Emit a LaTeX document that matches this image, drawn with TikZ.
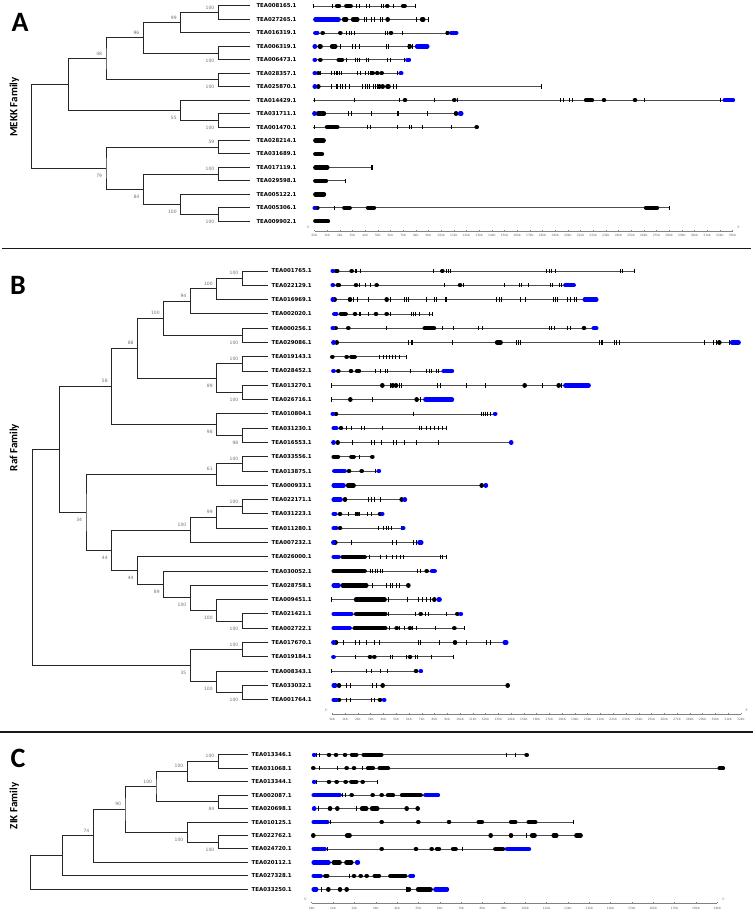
\documentclass[tikz,border=0pt]{standalone}
\usepackage{fontspec}
\setmainfont{DejaVu Sans}
\newfontfamily\calib{Carlito}
\newcommand\gl[3]{\draw[gline] (#2,#1) -- (#3,#1);}
\newcommand\gk[2]{\foreach \p/\q in {#2} {\draw[blob] (\p,#1) -- (\q,#1);}}
\newcommand\gb[2]{\foreach \p/\q in {#2} {\draw[blob,draw=blue] (\p,#1) -- (\q,#1);}}
\newcommand\gd[2]{\foreach \p in {#2} {\draw[blob] ({\p-0.4},#1) -- ({\p+0.4},#1);}}
\newcommand\gt[2]{\foreach \p in {#2} {\draw[tk] (\p,#1-2.2) -- (\p,#1+2.2);}}
\newcommand\kbaxis[5]{%
  \draw[axl] (#2,#1) -- ({#2+#4*#3},#1);
  \foreach \k in {0,...,#4} {\draw[axl] ({#2+\k*#3},#1) -- ({#2+\k*#3},#1-1.3);
    \node[axt] (#5\k) at ({#2+\k*#3},#1+4.6) {\k kb};}
  \node[axt] (#5s) at ({#2-18},#1-3.5) {5'};
  \node[axt] (#5e) at ({#2+#4*#3+18},#1-3.5) {3'};}
\newcommand\bsu[3]{\node[bs,anchor=south east,xshift=-3.8pt,yshift=3.4pt] (#1) at (#2) {#3};}
\newcommand\bsd[3]{\node[bs,anchor=north east,xshift=-3.8pt,yshift=-5.4pt] (#1) at (#2) {#3};}
\begin{document}
\begin{tikzpicture}[x=1pt,y=-1pt,
  leaf/.style={font=\fontsize{5.4}{6}\selectfont\bfseries, anchor=west, inner sep=0pt, outer xsep=3.4pt},
  leafA/.style={leaf, outer xsep=6.5pt},
  bs/.style={font=\fontsize{4.5}{5}\selectfont, text=black!55, inner sep=0pt},
  br/.style={line width=1pt, draw=black!85},
  gline/.style={line width=0.7pt, draw=black!70},
  blob/.style={line width=4.4pt, line cap=round, draw=black},
  tk/.style={line width=0.8pt, draw=black},
  axl/.style={line width=0.4pt, draw=black!50},
  axt/.style={font=\fontsize{3}{3.5}\selectfont, text=black!60, inner sep=0pt},
  plet/.style={font=\calib\bfseries\fontsize{28}{30}\selectfont, inner sep=0pt},
  fam/.style={font=\calib\bfseries\fontsize{11}{12}\selectfont, inner sep=0pt, rotate=90},
  sep/.style={line width=1.6pt, draw=black!90}]
\useasboundingbox (0,0) rectangle (753,912);
\fill[white] (0,0) rectangle (753,912);

% ---------- labels and separators
\node[plet] (LA) at (20,22.8) {A};
\node[plet] (LB) at (18,285) {B};
\node[plet] (LC) at (18,758) {C};
\node[fam] (FA) at (14.5,107) {MEKK Family};
\node[fam] (FB) at (14.5,447.5) {Raf Family};
\node[fam] (FC) at (14.5,806) {ZIK Family};
\draw[sep] (2,248.3) -- (751,248.3);
\draw[sep] (0,731.7) -- (753,731.7);

% ================= PANEL A tree
\node[leafA] (a0) at (250,6) {TEA008165.1};
\node[leafA] (a1) at (250,19.45) {TEA027265.1};
\node[leafA] (a2) at (250,32.9) {TEA016319.1};
\node[leafA] (a3) at (250,46.35) {TEA006319.1};
\node[leafA] (a4) at (250,59.8) {TEA006473.1};
\node[leafA] (a5) at (250,73.25) {TEA028357.1};
\node[leafA] (a6) at (250,86.7) {TEA025870.1};
\node[leafA] (a7) at (250,100.15) {TEA014429.1};
\node[leafA] (a8) at (250,113.6) {TEA031711.1};
\node[leafA] (a9) at (250,127.05) {TEA001470.1};
\node[leafA] (a10) at (250,140.5) {TEA028214.1};
\node[leafA] (a11) at (250,153.95) {TEA031689.1};
\node[leafA] (a12) at (250,167.4) {TEA017119.1};
\node[leafA] (a13) at (250,180.85) {TEA029598.1};
\node[leafA] (a14) at (250,194.3) {TEA005122.1};
\node[leafA] (a15) at (250,207.75) {TEA005306.1};
\node[leafA] (a16) at (250,221.2) {TEA009902.1};
\coordinate (nA1) at (218.3,12.73);
\coordinate (nA2) at (180.7,22.8);
\coordinate (nA3) at (218.3,53.08);
\coordinate (nA4) at (143.3,37.94);
\coordinate (nA5) at (218.3,79.98);
\coordinate (nA6) at (106,58.96);
\coordinate (nA7) at (218.3,120.33);
\coordinate (nA8) at (180.7,110.24);
\coordinate (nA9) at (68.3,84.6);
\coordinate (nA10) at (218.3,147.23);
\coordinate (nA11) at (218.3,174.13);
\coordinate (nA12) at (218.3,214.48);
\coordinate (nA13) at (180.7,204.39);
\coordinate (nA14) at (143.3,189.26);
\coordinate (nA15) at (106,168.25);
\coordinate (rA) at (31.7,126.4);
\draw[br] (a0.west) -| (nA1) |- (a1.west);
\draw[br] (nA1) -| (nA2) |- (a2.west);
\draw[br] (a3.west) -| (nA3) |- (a4.west);
\draw[br] (nA2) -| (nA4) |- (nA3);
\draw[br] (a5.west) -| (nA5) |- (a6.west);
\draw[br] (nA4) -| (nA6) |- (nA5);
\draw[br] (a8.west) -| (nA7) |- (a9.west);
\draw[br] (a7.west) -| (nA8) |- (nA7);
\draw[br] (nA6) -| (nA9) |- (nA8);
\draw[br] (a10.west) -| (nA10) |- (a11.west);
\draw[br] (a12.west) -| (nA11) |- (a13.west);
\draw[br] (a15.west) -| (nA12) |- (a16.west);
\draw[br] (a14.west) -| (nA13) |- (nA12);
\draw[br] (nA11) -| (nA14) |- (nA13);
\draw[br] (nA10) -| (nA15) |- (nA14);
\draw[br] (nA9) -| (rA) |- (nA15);
\bsu{bA1}{nA1}{100}
\bsu{bA2}{nA2}{99}
\bsd{bA3}{nA3}{100}
\bsu{bA4}{nA4}{96}
\bsd{bA5}{nA5}{100}
\bsu{bA6}{nA6}{48}
\bsd{bA7}{nA7}{100}
\bsd{bA8}{nA8}{55}
\bsu{bA10}{nA10}{59}
\bsu{bA11}{nA11}{100}
\bsd{bA12}{nA12}{100}
\bsd{bA13}{nA13}{100}
\bsd{bA14}{nA14}{84}
\bsd{bA15}{nA15}{79}

% ================= PANEL B tree
\node[leaf] (b0) at (268.3,271) {TEA001765.1};
\node[leaf] (b1) at (268.3,285.29) {TEA022129.1};
\node[leaf] (b2) at (268.3,299.58) {TEA016969.1};
\node[leaf] (b3) at (268.3,313.87) {TEA002020.1};
\node[leaf] (b4) at (268.3,328.16) {TEA000256.1};
\node[leaf] (b5) at (268.3,342.45) {TEA029086.1};
\node[leaf] (b6) at (268.3,356.74) {TEA019143.1};
\node[leaf] (b7) at (268.3,371.03) {TEA028452.1};
\node[leaf] (b8) at (268.3,385.32) {TEA013270.1};
\node[leaf] (b9) at (268.3,399.61) {TEA026716.1};
\node[leaf] (b10) at (268.3,413.9) {TEA010804.1};
\node[leaf] (b11) at (268.3,428.19) {TEA031230.1};
\node[leaf] (b12) at (268.3,442.48) {TEA016553.1};
\node[leaf] (b13) at (268.3,456.77) {TEA033556.1};
\node[leaf] (b14) at (268.3,471.06) {TEA013875.1};
\node[leaf] (b15) at (268.3,485.35) {TEA000933.1};
\node[leaf] (b16) at (268.3,499.64) {TEA022171.1};
\node[leaf] (b17) at (268.3,513.93) {TEA031223.1};
\node[leaf] (b18) at (268.3,528.22) {TEA011280.1};
\node[leaf] (b19) at (268.3,542.51) {TEA007232.1};
\node[leaf] (b20) at (268.3,556.8) {TEA026000.1};
\node[leaf] (b21) at (268.3,571.09) {TEA030052.1};
\node[leaf] (b22) at (268.3,585.38) {TEA028758.1};
\node[leaf] (b23) at (268.3,599.67) {TEA009451.1};
\node[leaf] (b24) at (268.3,613.96) {TEA021421.1};
\node[leaf] (b25) at (268.3,628.25) {TEA002722.1};
\node[leaf] (b26) at (268.3,642.54) {TEA017670.1};
\node[leaf] (b27) at (268.3,656.83) {TEA019184.1};
\node[leaf] (b28) at (268.3,671.12) {TEA008343.1};
\node[leaf] (b29) at (268.3,685.41) {TEA033032.1};
\node[leaf] (b30) at (268.3,699.7) {TEA001764.1};
\coordinate (nB1) at (242.3,278.15);
\coordinate (nB2) at (216.7,288.87);
\coordinate (nB3) at (190.3,301.37);
\coordinate (nB4) at (242.3,335.31);
\coordinate (nB5) at (163.7,318.34);
\coordinate (nB6) at (242.3,363.89);
\coordinate (nB7) at (242.3,392.47);
\coordinate (nB8) at (216.7,378.18);
\coordinate (nB9) at (137.5,348.26);
\coordinate (nB10) at (242.3,435.34);
\coordinate (nB11) at (216.7,424.62);
\coordinate (nB12) at (111.7,386.44);
\coordinate (nB13) at (242.3,463.92);
\coordinate (nB14) at (216.7,474.63);
\coordinate (nB15) at (242.3,506.79);
\coordinate (nB16) at (216.7,517.5);
\coordinate (nB17) at (190.3,530.0);
\coordinate (nB18) at (242.3,621.1);
\coordinate (nB19) at (216.7,610.4);
\coordinate (nB20) at (190.3,597.9);
\coordinate (nB21) at (163.7,584.5);
\coordinate (nB22) at (137.5,570.6);
\coordinate (nB23) at (111.7,550.3);
\coordinate (nB24) at (86,512.5);
\coordinate (nB25) at (59.3,449.5);
\coordinate (nB26) at (242.3,649.7);
\coordinate (nB27) at (242.3,692.6);
\coordinate (nB28) at (216.7,681.8);
\coordinate (nB29) at (190.3,665.8);
\coordinate (rB) at (32.7,557.6);
\draw[br] (b0.west) -| (nB1) |- (b1.west);
\draw[br] (nB1) -| (nB2) |- (b2.west);
\draw[br] (nB2) -| (nB3) |- (b3.west);
\draw[br] (b4.west) -| (nB4) |- (b5.west);
\draw[br] (nB3) -| (nB5) |- (nB4);
\draw[br] (b6.west) -| (nB6) |- (b7.west);
\draw[br] (b8.west) -| (nB7) |- (b9.west);
\draw[br] (nB6) -| (nB8) |- (nB7);
\draw[br] (nB5) -| (nB9) |- (nB8);
\draw[br] (b11.west) -| (nB10) |- (b12.west);
\draw[br] (b10.west) -| (nB11) |- (nB10);
\draw[br] (nB9) -| (nB12) |- (nB11);
\draw[br] (b13.west) -| (nB13) |- (b14.west);
\draw[br] (nB13) -| (nB14) |- (b15.west);
\draw[br] (b16.west) -| (nB15) |- (b17.west);
\draw[br] (nB15) -| (nB16) |- (b18.west);
\draw[br] (nB16) -| (nB17) |- (b19.west);
\draw[br] (b24.west) -| (nB18) |- (b25.west);
\draw[br] (b23.west) -| (nB19) |- (nB18);
\draw[br] (b22.west) -| (nB20) |- (nB19);
\draw[br] (b21.west) -| (nB21) |- (nB20);
\draw[br] (b20.west) -| (nB22) |- (nB21);
\draw[br] (nB17) -| (nB23) |- (nB22);
\draw[br] (nB14) -| (nB24) |- (nB23);
\draw[br] (nB12) -| (nB25) |- (nB24);
\draw[br] (b26.west) -| (nB26) |- (b27.west);
\draw[br] (b29.west) -| (nB27) |- (b30.west);
\draw[br] (b28.west) -| (nB28) |- (nB27);
\draw[br] (nB26) -| (nB29) |- (nB28);
\draw[br] (nB25) -| (rB) |- (nB29);
\bsu{bB1}{nB1}{100}
\bsu{bB2}{nB2}{100}
\bsu{bB3}{nB3}{94}
\bsd{bB4}{nB4}{100}
\bsu{bB5}{nB5}{100}
\bsu{bB6}{nB6}{100}
\bsd{bB7}{nB7}{100}
\bsd{bB8}{nB8}{89}
\bsu{bB9}{nB9}{88}
\bsd{bB10}{nB10}{98}
\bsd{bB11}{nB11}{98}
\bsu{bB12}{nB12}{58}
\bsu{bB13}{nB13}{100}
\bsu{bB14}{nB14}{61}
\bsu{bB15}{nB15}{100}
\bsu{bB16}{nB16}{99}
\bsu{bB17}{nB17}{100}
\bsd{bB18}{nB18}{100}
\bsd{bB19}{nB19}{100}
\bsd{bB20}{nB20}{100}
\bsd{bB21}{nB21}{89}
\bsd{bB22}{nB22}{44}
\bsd{bB23}{nB23}{44}
\bsd{bB24}{nB24}{34}
\bsu{bB26}{nB26}{100}
\bsd{bB27}{nB27}{100}
\bsd{bB28}{nB28}{100}
\bsd{bB29}{nB29}{35}

% ================= PANEL C tree
\node[leaf] (c0) at (248.3,754.8) {TEA013346.1};
\node[leaf] (c1) at (248.3,768.25) {TEA031068.1};
\node[leaf] (c2) at (248.3,781.7) {TEA013344.1};
\node[leaf] (c3) at (248.3,795.15) {TEA002087.1};
\node[leaf] (c4) at (248.3,808.6) {TEA020698.1};
\node[leaf] (c5) at (248.3,822.05) {TEA010125.1};
\node[leaf] (c6) at (248.3,835.5) {TEA022762.1};
\node[leaf] (c7) at (248.3,848.95) {TEA024720.1};
\node[leaf] (c8) at (248.3,862.4) {TEA020112.1};
\node[leaf] (c9) at (248.3,875.85) {TEA027328.1};
\node[leaf] (c10) at (248.3,889.3) {TEA033250.1};
\coordinate (nC1) at (218.3,761.53);
\coordinate (nC2) at (187.3,771.6);
\coordinate (nC3) at (218.3,801.9);
\coordinate (nC4) at (156,786.75);
\coordinate (nC5) at (218.3,842.2);
\coordinate (nC6) at (187.3,832.1);
\coordinate (nC7) at (125,809.4);
\coordinate (nC8) at (93.3,835.9);
\coordinate (nC9) at (62.3,855.9);
\coordinate (rC) at (30.7,872.6);
\draw[br] (c0.west) -| (nC1) |- (c1.west);
\draw[br] (nC1) -| (nC2) |- (c2.west);
\draw[br] (c3.west) -| (nC3) |- (c4.west);
\draw[br] (nC2) -| (nC4) |- (nC3);
\draw[br] (c6.west) -| (nC5) |- (c7.west);
\draw[br] (c5.west) -| (nC6) |- (nC5);
\draw[br] (nC4) -| (nC7) |- (nC6);
\draw[br] (nC7) -| (nC8) |- (c8.west);
\draw[br] (nC8) -| (nC9) |- (c9.west);
\draw[br] (nC9) -| (rC) |- (c10.west);
\bsu{bC1}{nC1}{100}
\bsu{bC2}{nC2}{100}
\bsd{bC3}{nC3}{84}
\bsu{bC4}{nC4}{100}
\bsd{bC5}{nC5}{100}
\bsd{bC6}{nC6}{100}
\bsu{bC7}{nC7}{90}
\bsu{bC8}{nC8}{74}

% ================= gene structures
\begin{scope}[xshift=300pt, x=0.33333pt]
% ---- A
\gl{6}{40}{345}\gt{6}{40,97,168,178,200,208,243,249,280,345}\gk{6}{111/117,139/152,309/314}\gd{6}{262}
\gl{19.45}{40}{385}\gk{19.45}{132/139,159/172,366/370}\gt{19.45}{192,200,215,222,240,247,350,385}\gd{19.45}{263}\gb{19.45}{46/116}
\gl{32.9}{40}{475}\gd{32.9}{68,121,273,443}\gt{32.9}{140,148,155,163,255,262,307,440}\gb{32.9}{46/52,454/469}
\gl{46.35}{40}{388}\gk{46.35}{59/62,96/106}\gt{46.35}{120,157,165,178,258,265,325,338}\gd{46.35}{329}\gb{46.35}{44/45,351/382}
\gl{59.8}{40}{333}\gd{59.8}{61}\gk{59.8}{116/126}\gt{59.8}{140,165,172,178,200,205,263,270,312}\gb{59.8}{44/45,322/327}
\gl{73.25}{40}{305}\gd{73.25}{55,218,232,245}\gt{73.25}{62,95,102,108,113,118,125,172,180,197,205,210,213,228,292}\gb{73.25}{44/45,302/304}
\gl{86.7}{40}{723}\gd{86.7}{55,238,248}\gk{86.7}{262/266}\gt{86.7}{95,108,112,120,128,137,147,187,195,202,207,220,225,232,280,288,723}\gb{86.7}{44/45}
\gl{100.15}{40}{1305}\gt{100.15}{42,162,298,403,473,780,790,808,816,1033,1262}\gd{100.15}{315,463,912,1005}\gk{100.15}{858/876}\gb{100.15}{1274/1299}
\gl{113.6}{40}{490}\gk{113.6}{54/72}\gt{113.6}{145,153,215,292,296,383}\gd{113.6}{468}\gb{113.6}{43/44,480/484}
\gl{127.05}{40}{535}\gt{127.05}{42,203,212,293,328,335,368,453}\gk{127.05}{81/112}\gd{127.05}{530}
\gk{140.5}{46/71}
\gk{153.95}{46/66}
\gl{167.4}{40}{215}\gk{167.4}{46/82}\gt{167.4}{213,216}
\gl{180.85}{40}{135}\gk{180.85}{46/78}\gt{180.85}{135}
\gk{194.3}{46/72}
\gl{207.75}{40}{1108}\gd{207.75}{52}\gt{207.75}{103,1108}\gk{207.75}{133/149,204/222,1038/1071}\gb{207.75}{44/45}
\gk{221.2}{46/84}
\kbaxis{231}{43.5}{38}{33}{axA}
% ---- B
\gl{271}{95}{1003}\gk{271}{108/112}\gd{271}{155,427}\gt{271}{165,170,182,400,438,445,452,740,747,753,767,962,968,1003}\gb{271}{98/99}
\gl{285.29}{95}{827}\gk{285.29}{113/117}\gd{285.29}{168,230,480}\gt{285.29}{177,195,212,432,490,613,657,665,685,750,757,778,785}\gb{285.29}{98/99,796/821}
\gl{299.58}{95}{895}\gd{299.58}{104,150,260}\gt{299.58}{160,172,205,272,312,318,325,378,403,410,435,440,590,597,603,660,675,760,765,772,803,810,823,830}\gb{299.58}{98/99,854/889}
\gl{313.87}{95}{397}\gk{313.87}{123/137}\gd{313.87}{165,228,260}\gt{313.87}{177,182,205,270,333,340,347,358,388,397}\gb{313.87}{103/109}
\gl{328.16}{95}{895}\gd{328.16}{107,145,852}\gk{328.16}{374/402}\gt{328.16}{258,428,460,535,548,748,755,762,803,810,850}\gb{328.16}{98/99,881/889}
\gl{342.45}{95}{1322}\gd{342.45}{110,1258}\gk{342.45}{591/602}\gt{342.45}{326,333,338,456,650,655,660,897,903,907,943,950,957,1212,1240,1248,1287}\gb{342.45}{100/101,1296/1316}
\gl{356.74}{95}{320}\gd{356.74}{97,140}\gk{356.74}{154/164}\gt{356.74}{238,250,258,268,277,287,297,320}
\gl{371.03}{95}{462}\gd{371.03}{115,153}\gk{371.03}{171/177}\gt{371.03}{225,240,255,262,330,380,388,393,408,415}\gb{371.03}{100/101,431/456}
\gl{385.32}{95}{872}\gt{385.32}{95,272,298,305,413,420,500,557,727,785}\gd{385.32}{247,278,288,674,776}\gb{385.32}{796/866}
\gl{399.61}{95}{462}\gt{399.61}{95,217,360}\gd{399.61}{151,350}\gb{399.61}{376/456}
\gl{413.9}{95}{586}\gd{413.9}{108}\gt{413.9}{340,543,550,557,563,572}\gb{413.9}{98/99,585/586}
\gl{428.19}{95}{440}\gd{428.19}{123}\gt{428.19}{140,155,185,193,247,357,363,378,390,403,415,428,440}\gb{428.19}{101/109}
\gl{442.48}{95}{634}\gd{442.48}{113}\gt{442.48}{157,215,222,243,280,290,313,350,415}\gb{442.48}{100/101,633/634}
\gl{456.77}{95}{217}\gk{456.77}{101/114,154/161}\gt{456.77}{177}\gd{456.77}{217}
\gl{471.06}{95}{237}\gd{471.06}{147,185}\gt{471.06}{227}\gb{471.06}{103/134,236/237}
\gl{485.35}{95}{558}\gk{485.35}{144/161}\gd{485.35}{545}\gb{485.35}{101/131,557/558}
\gl{499.64}{95}{315}\gd{499.64}{135,305}\gt{499.64}{205,213,222,240}\gb{499.64}{101/122,314/315}
\gl{513.93}{95}{247}\gd{513.93}{120,172,240}\gt{513.93}{145,165,178,202,215}\gb{513.93}{101/106,246/247}
\gl{528.22}{95}{310}\gd{528.22}{120}\gt{528.22}{235,250,258,265,275,305}\gb{528.22}{101/109,309/310}
\gl{542.51}{95}{370}\gd{542.51}{106}\gt{542.51}{153,278,290,340,348}\gb{542.51}{100/101,358/364}
\gl{556.8}{95}{440}\gk{556.8}{128/194}\gt{556.8}{207,240,260,277,290,300,310,420,428,440}\gb{556.8}{101/116}
\gl{571.09}{95}{410}\gk{571.09}{101/194}\gt{571.09}{210,218,225,233,240,248,353,360}\gd{571.09}{380}\gb{571.09}{396/404}
\gl{585.38}{95}{325}\gk{585.38}{128/199}\gt{585.38}{217,258,270,278,288,297}\gd{585.38}{325}\gb{585.38}{101/116}
\gl{599.67}{95}{425}\gt{599.67}{95,265,323,355,368,378,392}\gk{599.67}{168/254}\gd{599.67}{403}\gb{599.67}{416/419}
\gl{613.96}{95}{483}\gk{613.96}{168/256}\gt{613.96}{265,345,375,385,440}\gd{613.96}{362,472}\gb{613.96}{101/154,482/483}
\gl{628.25}{95}{493}\gk{628.25}{164/256}\gt{628.25}{268,298,313,338,350,405,493}\gd{628.25}{290,330,463}\gb{628.25}{101/149}
\gl{642.54}{95}{625}\gd{642.54}{108,465}\gt{642.54}{130,165,177,200,222,238,355,362,418,500,560,572}\gb{642.54}{100/101,614/619}
\gl{656.83}{95}{460}\gd{656.83}{210,223,330}\gt{656.83}{165,270,278,320,345,353,393,460}\gb{656.83}{100/101}
\gl{671.12}{95}{363}\gt{671.12}{95,200,213,242,262}\gd{671.12}{348}\gb{671.12}{362/363}
\gl{685.41}{95}{623}\gd{685.41}{117,248,623}\gt{685.41}{138,150,218,228}\gb{685.41}{101/106}
\gl{699.7}{95}{253}\gd{699.7}{117,240}\gt{699.7}{138,150,213,223}\gb{699.7}{101/109,252/253}
\kbaxis{714.3}{97}{38.3}{32}{axB}
% ---- C
\gl{754.8}{38}{680}\gt{754.8}{50,58,620,645}\gd{754.8}{87,108,135,680}\gk{754.8}{156/169,191/244}\gb{754.8}{42/43}
\gl{768.25}{38}{1275}\gd{768.25}{40,140,162}\gt{768.25}{58,113,187}\gk{768.25}{204/219,239/264,1259/1269}
\gl{781.7}{38}{232}\gt{781.7}{50,232}\gd{781.7}{87,110,137,188}\gk{781.7}{154/169}\gb{781.7}{42/43}
\gl{795.15}{38}{420}\gt{795.15}{128,135}\gd{795.15}{155,218,245}\gk{795.15}{264/279,306/362}\gb{795.15}{41/119,376/414}
\gl{808.6}{38}{353}\gt{808.6}{55,168}\gd{808.6}{90,112,320,353}\gk{808.6}{186/199,216/232}\gb{808.6}{42/43}
\gl{822.05}{38}{820}\gt{822.05}{92,820}\gd{822.05}{245,355,447}\gk{822.05}{536/546,633/646,686/706}\gb{822.05}{41/82}
\gl{835.5}{38}{848}\gd{835.5}{40,572,633}\gt{835.5}{680}\gk{835.5}{141/149,696/704,761/769,829/842}
\gl{848.95}{38}{693}\gt{848.95}{83,487}\gd{848.95}{245,348,395}\gk{848.95}{411/417,459/467,586/609}\gb{848.95}{41/74,621/687}
\gl{862.4}{38}{180}\gk{862.4}{101/119,139/154}\gb{862.4}{41/86,171/174}
\gl{875.85}{38}{345}\gk{875.85}{76/82,224/237,271/316}\gt{875.85}{147}\gd{875.85}{162,182,200}\gb{875.85}{41/62,331/339}
\gl{889.3}{38}{447}\gt{889.3}{65,318,322}\gd{889.3}{85,120,140,327}\gk{889.3}{354/392}\gb{889.3}{41/49,406/441}
\kbaxis{903.3}{35}{64.05}{19}{axC}
\end{scope}
\end{tikzpicture}
\end{document}
